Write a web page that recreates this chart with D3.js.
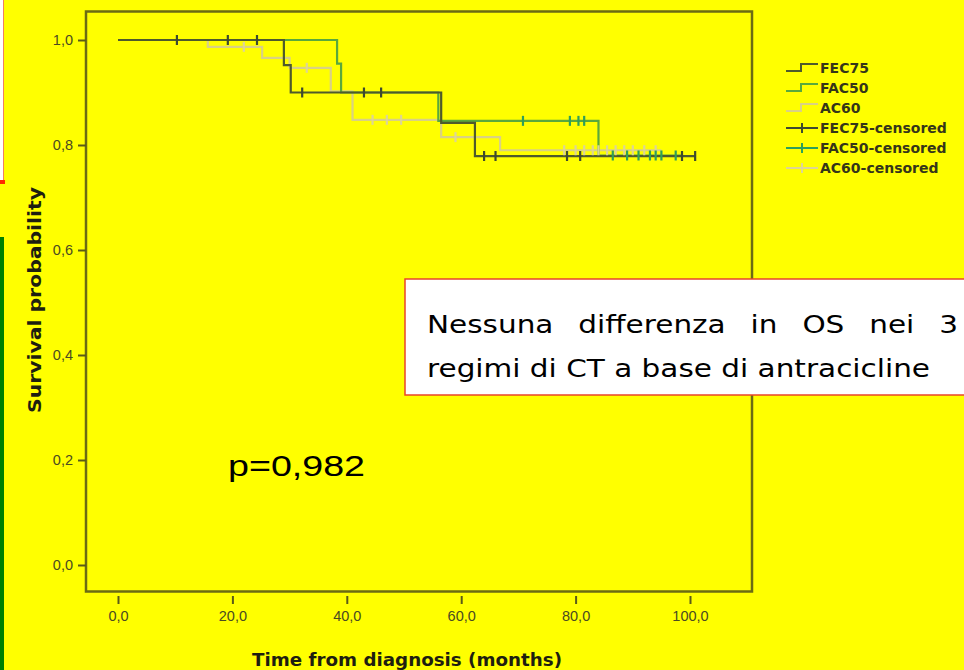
<!DOCTYPE html>
<html>
<head>
<meta charset="utf-8">
<script src="https://cdn.jsdelivr.net/npm/d3@7"></script>
<style>
  body { margin: 0; background: #ffff00; }
  svg { display: block; }
</style>
</head>
<body>
<script>
// chart data
var groups = ["FEC75", "FAC50", "AC60"];

// [months, survival] at every step of the curves
var fec75Steps = [[0, 1.0], [29.0, 0.952], [30.2, 0.900], [56.5, 0.842], [62.4, 0.779]];
var fac50Steps = [[0, 1.0], [38.3, 0.955], [39.0, 0.900], [56.0, 0.846], [84.0, 0.780]];
var ac60Steps  = [[0, 1.0], [15.7, 0.987], [25.2, 0.966], [30.0, 0.947], [37.2, 0.902], [41.0, 0.848], [56.5, 0.815], [66.8, 0.790]];
var endTimes = [101, 98.5, 95];

// censored cases (months)
var fec75Censored = [10.3, 19.2, 24.3, 32.2, 43.0, 46.0, 64.0, 66.0, 78.5, 80.8, 98.6, 100.9];
var fac50Censored = [70.8, 79.0, 80.5, 81.5, 86.5, 89.0, 91.0, 93.0, 94.0, 95.0, 97.5];
var ac60Censored  = [22.0, 33.0, 44.5, 47.0, 49.5, 59.0, 78.0, 80.0, 81.5, 83.0, 84.0, 85.5, 87.0, 88.5, 90.0, 92.0, 94.0];

var xTicks = [0, 20, 40, 60, 80, 100];
var yTicks = [0, 0.2, 0.4, 0.6, 0.8, 1.0];
var legendLabels = ["FEC75", "FAC50", "AC60", "FEC75-censored", "FAC50-censored", "AC60-censored"];

var lineColors = ["#4e5a2c", "#5aa83c", "#d9d184"];
var censorColors = ["#3e4a30", "#2f9f5a", "#ddd595"];

var width = 964,
    height = 670;

var svg = d3.select("body")
    .append("svg")
    .attr("width", width)
    .attr("height", height);

svg.append("rect").attr("width", width).attr("height", height).attr("fill", "#ffff00");

// bits of the slide around the chart
svg.append("rect").attr("x", 0).attr("y", 0).attr("width", 4).attr("height", 182).attr("fill", "#ffffff");
svg.append("line").attr("x1", 3.5).attr("x2", 3.5).attr("y1", 0).attr("y2", 182)
    .attr("stroke", "#f08060").attr("stroke-width", 1);
svg.append("rect").attr("x", 0).attr("y", 180).attr("width", 5).attr("height", 4).attr("fill", "#ff2a00");
svg.append("rect").attr("x", 0).attr("y", 237).attr("width", 4).attr("height", height - 237).attr("fill", "#008000");

var x = d3.scaleLinear().domain([0, 100]).range([118, 690]);
var y = d3.scaleLinear().domain([0, 1]).range([565, 40]);

var sans = "Arial, 'Liberation Sans', sans-serif";
var wide = "'DejaVu Sans', Verdana, sans-serif";

// frame of the plot
svg.append("rect")
    .attr("x", 86).attr("y", 11.5)
    .attr("width", 666).attr("height", 580)
    .attr("fill", "none")
    .attr("stroke", "#6b6b14")
    .attr("stroke-width", 2.5);

var comma = function(d) { return d3.format(".1f")(d).replace(".", ","); };

// y axis
var yAxis = svg.append("g")
    .attr("transform", "translate(86,0)")
    .call(d3.axisLeft(y).tickValues(yTicks).tickSize(8).tickPadding(5).tickFormat(comma));
yAxis.select(".domain").remove();

// x axis, sits a bit under the frame
var xAxis = svg.append("g")
    .attr("transform", "translate(0,596)")
    .call(d3.axisBottom(x).tickValues(xTicks).tickSize(8).tickPadding(7).tickFormat(comma));
xAxis.select(".domain").remove();

svg.selectAll(".tick line").attr("stroke", "#5a5a18").attr("stroke-width", 2);
svg.selectAll(".tick text")
    .attr("fill", "#4a4a22")
    .style("font-family", sans)
    .style("font-size", "14.5px");

// axis titles
svg.append("text")
    .attr("x", 252).attr("y", 666)
    .attr("textLength", 310)
    .attr("lengthAdjust", "spacingAndGlyphs")
    .style("font-family", wide)
    .style("font-weight", "bold")
    .style("font-size", "18px")
    .attr("fill", "#1e1e10")
    .text("Time from diagnosis (months)");

svg.append("text")
    .attr("transform", "translate(41,413) rotate(-90)")
    .attr("textLength", 226)
    .attr("lengthAdjust", "spacingAndGlyphs")
    .style("font-family", wide)
    .style("font-weight", "bold")
    .style("font-size", "18px")
    .attr("fill", "#1e1e10")
    .text("Survival probability");

// survival curves
var allSteps = [fec75Steps, fac50Steps, ac60Steps];
var allCensored = [fec75Censored, fac50Censored, ac60Censored];

function survivalAt(steps, t) {
    var s = steps[0][1];
    steps.forEach(function(p) { if (p[0] <= t) s = p[1]; });
    return s;
}

var stepLine = d3.line()
    .x(function(d) { return x(d[0]); })
    .y(function(d) { return y(d[1]); })
    .curve(d3.curveStepAfter);

// draw pale first so the darker ones lie on top
[2, 1, 0].forEach(function(i) {
    var steps = allSteps[i];
    var pts = steps.concat([[endTimes[i], steps[steps.length - 1][1]]]);
    svg.append("path")
        .attr("d", stepLine(pts))
        .attr("fill", "none")
        .attr("stroke", lineColors[i])
        .attr("stroke-width", 2.2);
});

[2, 1, 0].forEach(function(i) {
    svg.append("g")
        .selectAll("line")
        .data(allCensored[i])
        .enter().append("line")
        .attr("x1", function(d) { return x(d); })
        .attr("x2", function(d) { return x(d); })
        .attr("y1", function(d) { return y(survivalAt(allSteps[i], d)) - 5; })
        .attr("y2", function(d) { return y(survivalAt(allSteps[i], d)) + 5; })
        .attr("stroke", censorColors[i])
        .attr("stroke-width", 2.2);
});

// legend
var legend = svg.append("g").attr("class", "legend");
legendLabels.forEach(function(label, i) {
    var ly = 68 + i * 20;
    var g = legend.append("g").attr("transform", "translate(0," + ly + ")");
    if (i < 3) {
        g.append("path")
            .attr("d", "M786,3H801V-4H818")
            .attr("fill", "none")
            .attr("stroke", lineColors[i])
            .attr("stroke-width", 2);
    } else {
        g.append("line").attr("x1", 786).attr("x2", 818).attr("y1", 0).attr("y2", 0)
            .attr("stroke", censorColors[i - 3]).attr("stroke-width", 2);
        g.append("line").attr("x1", 802).attr("x2", 802).attr("y1", -5).attr("y2", 5)
            .attr("stroke", censorColors[i - 3]).attr("stroke-width", 2);
    }
    g.append("text")
        .attr("x", 820).attr("y", 5)
        .style("font-family", wide)
        .style("font-weight", "bold")
        .style("font-size", "14px")
        .attr("fill", "#35351a")
        .text(label);
});

// p value
svg.append("text")
    .attr("x", 228).attr("y", 476)
    .attr("textLength", 137)
    .attr("lengthAdjust", "spacingAndGlyphs")
    .style("font-family", sans)
    .style("font-size", "30px")
    .attr("fill", "#000")
    .text("p=0,982");

// comment box
svg.append("rect")
    .attr("x", 405).attr("y", 279)
    .attr("width", 580).attr("height", 116)
    .attr("fill", "#ffffff")
    .attr("stroke", "#e8452a")
    .attr("stroke-width", 1.5);

var boxFont = "'Comic Sans MS', 'DejaVu Sans', sans-serif";

var line2 = svg.append("text")
    .attr("x", 427).attr("y", 377)
    .style("font-family", boxFont)
    .style("font-size", "25px")
    .attr("fill", "#000")
    .text("regimi di CT a base di antracicline");
// stretch factor so the second line spans like the picture
var k = 503 / line2.node().getComputedTextLength();
line2.attr("textLength", 503).attr("lengthAdjust", "spacingAndGlyphs");

var firstWords = ["Nessuna", "differenza", "in", "OS", "nei", "3"];
var wordNodes = firstWords.map(function(w) {
    return svg.append("text")
        .attr("y", 333)
        .style("font-family", boxFont)
        .style("font-size", "25px")
        .attr("fill", "#000")
        .text(w);
});
// justify first line between 427 and 958
var widths = wordNodes.map(function(n) { return n.node().getComputedTextLength() * k; });
var gap = (958 - 427 - d3.sum(widths)) / (firstWords.length - 1);
var cx = 427;
wordNodes.forEach(function(n, i) {
    n.attr("x", cx).attr("textLength", widths[i]).attr("lengthAdjust", "spacingAndGlyphs");
    cx += widths[i] + gap;
});
</script>
</body>
</html>
